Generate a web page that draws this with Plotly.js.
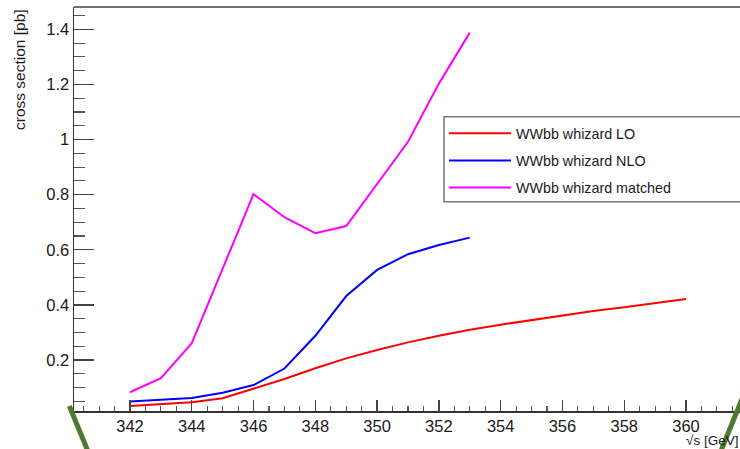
<!DOCTYPE html>
<html>
<head>
<meta charset="utf-8">
<script src="https://cdn.plot.ly/plotly-3.0.1.min.js"></script>
<style>
html,body{margin:0;padding:0;background:#fff;}
#chart{width:740px;height:449px;}
</style>
</head>
<body>
<div id="chart"></div>
<script>
// sqrt(s) in GeV
const energyLO = [342,343,344,345,346,347,348,349,350,351,352,353,354,355,356,357,358,359,360];
const xsecLO   = [0.033,0.039,0.047,0.061,0.097,0.131,0.170,0.206,0.236,0.264,0.288,0.310,0.328,0.345,0.361,0.378,0.391,0.406,0.421];

const energyNLO = [342,343,344,345,346,347,348,349,350,351,352,353];
const xsecNLO   = [0.049,0.055,0.062,0.081,0.109,0.169,0.288,0.432,0.527,0.584,0.617,0.644];

const energyMatched = [342,343,344,345,346,347,348,349,350,351,352,353];
const xsecMatched   = [0.083,0.134,0.261,0.528,0.802,0.718,0.660,0.686,0.840,0.992,1.203,1.388];

const seriesNames = ["WWbb whizard LO","WWbb whizard NLO","WWbb whizard matched"];
const seriesColors = ["#ff0000","#0000ff","#ff00ff"];

const xTitle = "√s [GeV]";
const yTitle = "cross section [pb]";

const traces = [
  {x: energyLO, y: xsecLO, name: seriesNames[0], legendgroup: "a"},
  {x: energyNLO, y: xsecNLO, name: seriesNames[1], legendgroup: "b"},
  {x: energyMatched, y: xsecMatched, name: seriesNames[2], legendgroup: "c"}
].map((t, i) => Object.assign(t, {
  type: "scatter", mode: "lines",
  line: {color: seriesColors[i], width: 2}
}));

const W = 740, H = 449, L = 74, R = 0, T = 7, B = 38;
const pw = W - L - R, ph = H - T - B;
const px = v => (v - L) / pw;
const py = v => (H - B - v) / ph;

const fontFam = "Liberation Sans, Arial, sans-serif";
const tickFont = {family: fontFam, size: 16.5, color: "#1a1a1a"};

const layout = {
  width: W, height: H,
  margin: {l: L, r: R, t: T, b: B},
  paper_bgcolor: "#ffffff", plot_bgcolor: "#ffffff",
  showlegend: true,
  legend: {
    x: px(444), y: py(117.5), xanchor: "left", yanchor: "top",
    bgcolor: "rgba(0,0,0,0)", borderwidth: 0,
    font: {family: fontFam, size: 14.3, color: "#1a1a1a"},
    tracegroupgap: 5.5, itemwidth: 62
  },
  xaxis: {
    range: [340.187, 361.748], showgrid: false, zeroline: false,
    showline: true, linecolor: "#333333", linewidth: 1.5,
    ticks: "inside", ticklen: 11, tickwidth: 1.3, tickcolor: "#444444",
    tick0: 0, dtick: 2, tickfont: tickFont,
    minor: {ticks: "inside", dtick: 0.5, ticklen: 5.5, tickwidth: 1.2, tickcolor: "#555555", showgrid: false}
  },
  yaxis: {
    range: [0.0149, 1.481], showgrid: false, zeroline: false,
    showline: true, linecolor: "#333333", linewidth: 1.5,
    ticks: "inside", ticklen: 20, tickwidth: 1.3, tickcolor: "#444444",
    tick0: 0, dtick: 0.2, tickfont: tickFont,
    minor: {ticks: "inside", dtick: 0.05, ticklen: 11, tickwidth: 1.2, tickcolor: "#555555", showgrid: false}
  },
  annotations: [
    {text: yTitle, xref: "paper", yref: "paper", x: px(19.5), y: 1, xanchor: "center", yanchor: "top",
     textangle: -90, showarrow: false, font: {family: fontFam, size: 15.5, color: "#1a1a1a"}},
    {text: xTitle, xref: "paper", yref: "paper", x: px(739), y: py(448.8), xanchor: "right", yanchor: "bottom",
     showarrow: false, borderpad: 0, font: {family: fontFam, size: 13.5, color: "#1a1a1a"}}
  ],
  shapes: [
    {type: "rect", xref: "paper", yref: "paper", x0: px(444), x1: px(742), y0: py(201.7), y1: py(116.7),
     line: {color: "#777777", width: 1.5}, fillcolor: "#ffffff", layer: "below"},
    {type: "line", xref: "paper", yref: "paper", x0: 0, x1: 1, y0: 1, y1: 1, line: {color: "#707070", width: 2}},
    {type: "line", xref: "paper", yref: "paper", x0: px(69.3), y0: py(406), x1: px(89.5), y1: py(455), line: {color: "#4e7a30", width: 5}},
    {type: "line", xref: "paper", yref: "paper", x0: px(742), y0: py(399), x1: px(719.3), y1: py(455), line: {color: "#4e7a30", width: 5}}
  ]
};

Plotly.newPlot("chart", traces, layout, {displayModeBar: false, staticPlot: true});
</script>
</body>
</html>
